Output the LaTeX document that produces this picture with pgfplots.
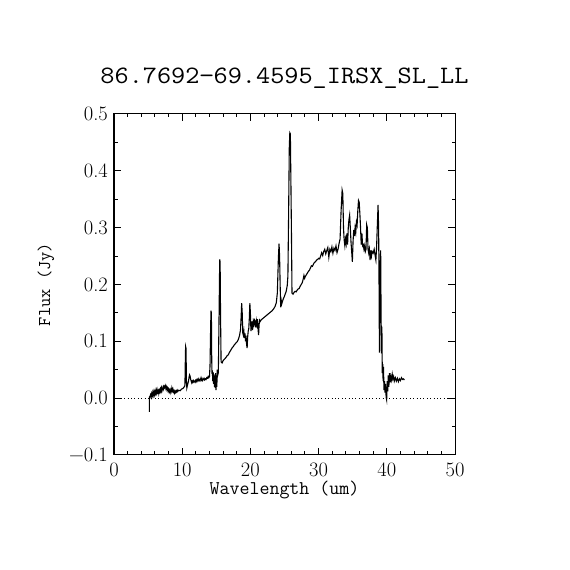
\documentclass[border=0pt]{standalone}
\usepackage{graphicx}
\usepackage{pgfplots}
\pgfplotsset{compat=1.18}
\begin{document}
\begin{tikzpicture}
\path[use as bounding box] (0,0) rectangle (570pt,570pt);
\begin{axis}[
  at={(114pt,115pt)}, anchor=south west,
  scale only axis, width=341pt, height=341pt,
  xmin=0, xmax=50, ymin=-0.1, ymax=0.5,
  xtick={0,10,20,30,40,50},
  ytick={-0.1,0,0.1,0.2,0.3,0.4,0.5},
  yticklabels={−0.1,0.0,0.1,0.2,0.3,0.4,0.5},
  minor x tick num=4, minor y tick num=1,
  tick align=inside, tick pos=both,
  xticklabel pos=lower, yticklabel pos=left,
  major tick length=7pt, minor tick length=3.5pt,
  axis line style={line width=1pt},
  every tick/.style={line width=1pt, black},
  /pgf/number format/assume math mode=true,
  tick label style={font=\fontsize{20.5}{22}\selectfont},
  xticklabel style={anchor=base, yshift=-22pt},
  yticklabel style={anchor=east, inner sep=0pt, xshift=-6pt},
  title={\scalebox{1.1}[1]{86.7692−69.4595\_IRSX\_SL\_LL}},
  title style={at={(axis description cs:0.5,1.0733)}, anchor=base, inner sep=0pt, font=\fontsize{25}{28}\selectfont\ttfamily},
  xlabel={Wavelength (um)},
  xlabel style={at={(axis description cs:0.5,-0.1173)}, anchor=base, inner sep=0pt, font=\fontsize{19.4}{22}\selectfont\ttfamily},
  ylabel={Flux (Jy)},
  ylabel style={at={(axis description cs:-0.1994,0.5)}, anchor=center, inner sep=0pt, font=\fontsize{18}{20}\selectfont\ttfamily},
]
\addplot[black, line width=1pt, dash pattern=on 1pt off 2.4pt] coordinates {(0,0) (50,0)};
\addplot[black, line width=1.1pt] table {
x y
5.18 -0.024
5.20 0.002
5.28 0.003
5.36 0.006
5.44 0.002
5.52 0.008
5.60 0.004
5.68 0.010
5.76 0.005
5.84 0.011
5.92 0.006
6.00 0.012
6.08 0.008
6.16 0.014
6.24 0.009
6.32 0.015
6.40 0.010
6.48 0.013
6.56 0.008
6.64 0.014
6.72 0.011
6.80 0.016
6.88 0.012
6.96 0.018
7.04 0.013
7.12 0.017
7.20 0.020
7.28 0.016
7.36 0.021
7.44 0.019
7.52 0.022
7.60 0.017
7.68 0.020
7.76 0.015
7.84 0.018
7.92 0.013
8.00 0.016
8.08 0.011
8.16 0.014
8.24 0.010
8.32 0.015
8.40 0.012
8.48 0.018
8.56 0.013
8.64 0.016
8.72 0.011
8.80 0.013
8.88 0.009
8.96 0.012
9.04 0.010
9.12 0.013
9.20 0.011
9.28 0.014
9.36 0.012
9.50 0.014
9.70 0.013
9.90 0.016
10.10 0.017
10.30 0.020
10.40 0.022
10.45 0.060
10.50 0.091
10.56 0.088
10.62 0.030
10.68 0.018
10.76 0.022
10.84 0.026
10.92 0.030
11.00 0.036
11.08 0.041
11.16 0.039
11.24 0.033
11.32 0.030
11.40 0.027
11.48 0.030
11.56 0.028
11.64 0.031
11.72 0.029
11.80 0.030
11.88 0.028
11.96 0.031
12.04 0.029
12.12 0.032
12.20 0.030
12.28 0.033
12.36 0.031
12.44 0.034
12.52 0.031
12.60 0.030
12.68 0.033
12.76 0.036
12.84 0.032
12.92 0.034
13.00 0.031
13.10 0.033
13.20 0.035
13.30 0.032
13.40 0.034
13.50 0.033
13.60 0.036
13.70 0.035
13.80 0.038
13.90 0.036
14.00 0.038
14.08 0.057
14.15 0.110
14.22 0.154
14.28 0.150
14.32 0.080
14.36 0.043
14.42 0.049
14.48 0.030
14.54 0.046
14.60 0.025
14.66 0.042
14.72 0.020
14.78 0.038
14.84 0.018
14.90 0.044
14.96 0.014
15.02 0.040
15.08 0.020
15.14 0.050
15.20 0.040
15.30 0.045
15.40 0.140
15.50 0.244
15.56 0.240
15.62 0.150
15.70 0.064
15.85 0.062
16.00 0.066
16.15 0.068
16.30 0.070
16.45 0.072
16.60 0.075
16.75 0.076
16.90 0.080
17.05 0.083
17.20 0.086
17.35 0.089
17.50 0.091
17.65 0.094
17.80 0.096
17.95 0.098
18.10 0.100
18.25 0.104
18.40 0.110
18.55 0.120
18.65 0.145
18.72 0.167
18.80 0.150
18.88 0.115
18.96 0.111
19.04 0.118
19.12 0.106
19.20 0.114
19.28 0.100
19.36 0.110
19.44 0.095
19.52 0.088
19.60 0.108
19.68 0.118
19.76 0.122
19.84 0.140
19.92 0.167
20.00 0.150
20.08 0.118
20.16 0.128
20.24 0.135
20.32 0.120
20.40 0.132
20.48 0.125
20.56 0.140
20.64 0.128
20.72 0.137
20.80 0.124
20.88 0.136
20.96 0.130
21.04 0.139
21.12 0.122
21.20 0.111
21.28 0.130
21.36 0.137
21.44 0.135
21.60 0.138
21.80 0.140
22.00 0.142
22.20 0.144
22.40 0.146
22.60 0.148
22.80 0.150
23.00 0.152
23.20 0.154
23.40 0.157
23.60 0.161
23.80 0.168
23.95 0.185
24.10 0.245
24.20 0.272
24.28 0.250
24.36 0.200
24.44 0.160
24.52 0.172
24.60 0.166
24.70 0.170
24.80 0.174
24.95 0.178
25.10 0.183
25.25 0.188
25.40 0.198
25.50 0.215
25.60 0.320
25.70 0.440
25.78 0.467
25.86 0.465
25.94 0.380
26.02 0.290
26.10 0.185
26.25 0.183
26.40 0.186
26.55 0.188
26.70 0.187
26.85 0.190
27.00 0.192
27.15 0.193
27.30 0.197
27.45 0.200
27.60 0.203
27.75 0.210
27.85 0.216
27.95 0.211
28.05 0.214
28.20 0.217
28.35 0.220
28.50 0.223
28.65 0.225
28.80 0.229
28.95 0.233
29.10 0.232
29.25 0.236
29.40 0.239
29.55 0.240
29.70 0.243
29.85 0.244
30.00 0.246
30.15 0.245
30.30 0.250
30.45 0.256
30.60 0.251
30.75 0.258
30.90 0.262
31.05 0.254
31.20 0.260
31.35 0.265
31.50 0.248
31.65 0.262
31.80 0.258
31.95 0.266
32.10 0.255
32.25 0.264
32.40 0.260
32.55 0.268
32.70 0.256
32.85 0.262
33.00 0.272
33.15 0.280
33.30 0.330
33.45 0.366
33.55 0.360
33.65 0.300
33.75 0.278
33.85 0.268
33.95 0.280
34.05 0.272
34.15 0.290
34.25 0.270
34.35 0.300
34.45 0.314
34.55 0.322
34.65 0.300
34.75 0.275
34.85 0.258
34.95 0.240
35.05 0.275
35.15 0.296
35.25 0.285
35.35 0.300
35.45 0.292
35.55 0.310
35.65 0.305
35.75 0.330
35.85 0.348
35.95 0.345
36.05 0.325
36.15 0.300
36.25 0.270
36.35 0.290
36.45 0.268
36.55 0.270
36.65 0.262
36.75 0.268
36.85 0.258
36.95 0.262
37.05 0.305
37.15 0.300
37.25 0.262
37.35 0.255
37.45 0.262
37.55 0.243
37.65 0.260
37.75 0.250
37.85 0.258
38.00 0.255
38.15 0.262
38.30 0.250
38.40 0.243
38.50 0.265
38.60 0.300
38.72 0.340
38.80 0.300
38.86 0.208
38.92 0.080
38.98 0.160
39.04 0.240
39.10 0.260
39.16 0.150
39.22 0.079
39.28 0.126
39.34 0.044
39.40 0.060
39.46 0.030
39.52 0.055
39.58 0.014
39.66 0.030
39.74 0.010
39.82 0.025
39.90 0.002
39.98 -0.003
40.06 0.030
40.14 0.012
40.22 0.040
40.30 0.020
40.40 0.044
40.50 0.028
40.60 0.038
40.70 0.032
40.80 0.042
40.90 0.034
41.00 0.038
41.10 0.030
41.25 0.036
41.40 0.030
41.55 0.035
41.70 0.029
41.85 0.034
42.00 0.031
42.15 0.036
42.30 0.033
42.45 0.034
42.58 0.032
};
\end{axis}
\end{tikzpicture}
\end{document}
